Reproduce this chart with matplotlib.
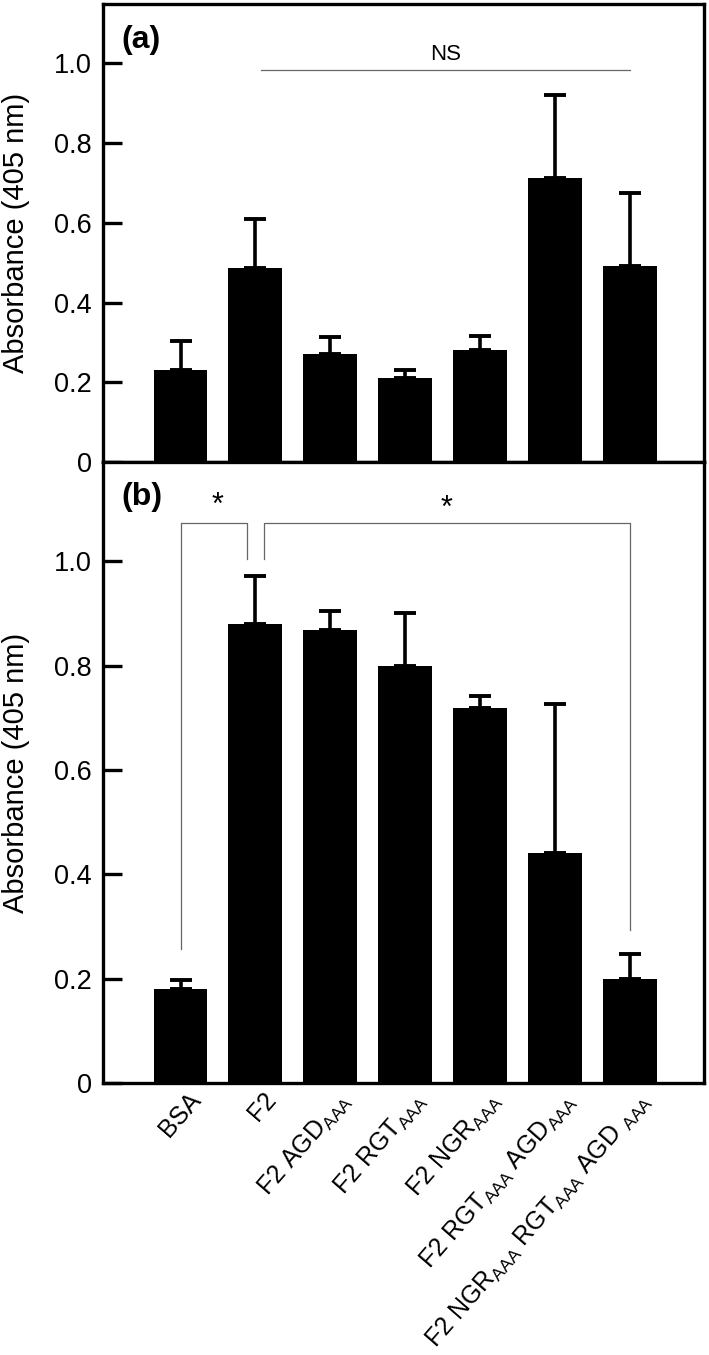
import matplotlib
matplotlib.use("Agg")
import matplotlib.pyplot as plt
import matplotlib.transforms as mtransforms
import numpy as np

plt.rcParams['font.family'] = ['Liberation Sans', 'DejaVu Sans']
plt.rcParams['mathtext.fontset'] = 'custom'
plt.rcParams['mathtext.rm'] = 'Liberation Sans'
plt.rcParams['mathtext.it'] = 'Liberation Sans'
plt.rcParams['mathtext.bf'] = 'Liberation Sans:bold'

# ---------------- data ----------------
categories = ["BSA", "F2", r"F2 AGD$_{\rm AAA}$", r"F2 RGT$_{\rm AAA}$",
              r"F2 NGR$_{\rm AAA}$", r"F2 RGT$_{\rm AAA}$ AGD$_{\rm AAA}$",
              r"F2 NGR$_{\rm AAA}$ RGT$_{\rm AAA}$ AGD $_{\rm AAA}$"]
a_means = [0.232, 0.487, 0.272, 0.211, 0.280, 0.712, 0.492]
a_err = [0.072, 0.122, 0.042, 0.019, 0.036, 0.208, 0.183]
b_means = [0.181, 0.880, 0.869, 0.799, 0.719, 0.441, 0.199]
b_err = [0.016, 0.091, 0.035, 0.102, 0.022, 0.285, 0.048]
yticks = [0, 0.2, 0.4, 0.6, 0.8, 1.0]
ytick_labels = ["0", "0.2", "0.4", "0.6", "0.8", "1.0"]
ylabel = "Absorbance (405 nm)"

W, H = 709, 1355
fig = plt.figure(figsize=(W / 100, H / 100), dpi=100)
left = 103 / W
width = 601 / W
ax1 = fig.add_axes([left, 1 - 462 / H, width, 458 / H])
ax2 = fig.add_axes([left, 1 - 1083 / H, width, 621 / H])

x = np.arange(len(categories))
tick_fs = 19.5
xlab_fs = 18


def style(ax, vals, errs, ytop):
    ax.bar(x, vals, width=0.72, color='black', edgecolor='none', zorder=2)
    ax.errorbar(x, vals, yerr=[np.zeros(len(x)), errs], fmt='none',
                ecolor='black', elinewidth=2.6, capsize=8, capthick=2.8, zorder=3)
    ax.set_xlim(-1.035, 6.99)
    ax.set_ylim(0, ytop)
    ax.set_yticks(yticks)
    ax.set_yticklabels(ytick_labels, fontsize=tick_fs)
    ax.tick_params(axis='y', direction='in', length=14, width=2.4, pad=8)
    ax.tick_params(axis='x', length=0)
    for s in ax.spines.values():
        s.set_linewidth(2.4)
        s.set_color('black')
    ax.set_ylabel(ylabel, fontsize=21, va='center')
    ax.yaxis.set_label_coords(-0.144, 0.5)


style(ax1, a_means, a_err, 1.149)
style(ax2, b_means, b_err, 1.19)

ax1.set_xticks(x)
ax1.set_xticklabels([])
ax2.set_xticks(x)
ax2.set_xticklabels(categories, rotation=49, ha='right', va='top',
                    rotation_mode='anchor', fontsize=xlab_fs)
offset = mtransforms.ScaledTranslation(7 / 100, 0, fig.dpi_scale_trans)
for lab in ax2.get_xticklabels():
    lab.set_transform(lab.get_transform() + offset)

# panel letters
ax1.text(0.030, 0.921, "(a)", transform=ax1.transAxes, fontsize=23,
         fontweight='bold', ha='left', va='center')
ax2.text(0.030, 0.9435, "(b)", transform=ax2.transAxes, fontsize=23,
         fontweight='bold', ha='left', va='center')

# NS line (panel a)
line_col = '#666666'
ax1.plot([x[1] + 0.07, x[6]], [0.983, 0.983], color=line_col, lw=0.9, zorder=4)
ax1.text((x[1] + 0.07 + x[6]) / 2, 1.008, "NS", fontsize=16,
         ha='center', va='baseline')

# brackets (panel b)
top_y = 1.073
legF2 = 1.004
ax2.plot([x[0], x[0], x[1] - 0.11, x[1] - 0.11],
         [0.257, top_y, top_y, legF2], color=line_col, lw=0.9, zorder=4)
ax2.plot([x[1] + 0.115, x[1] + 0.115, x[6], x[6]],
         [legF2, top_y, top_y, 0.293], color=line_col, lw=0.9, zorder=4)
ax2.text(0.5, 1.090, "*", fontsize=22, ha='center', va='baseline')
ax2.text((x[1] + 0.115 + x[6]) / 2, 1.084, "*", fontsize=22,
         ha='center', va='baseline')

fig.savefig("out.png", dpi=100)
